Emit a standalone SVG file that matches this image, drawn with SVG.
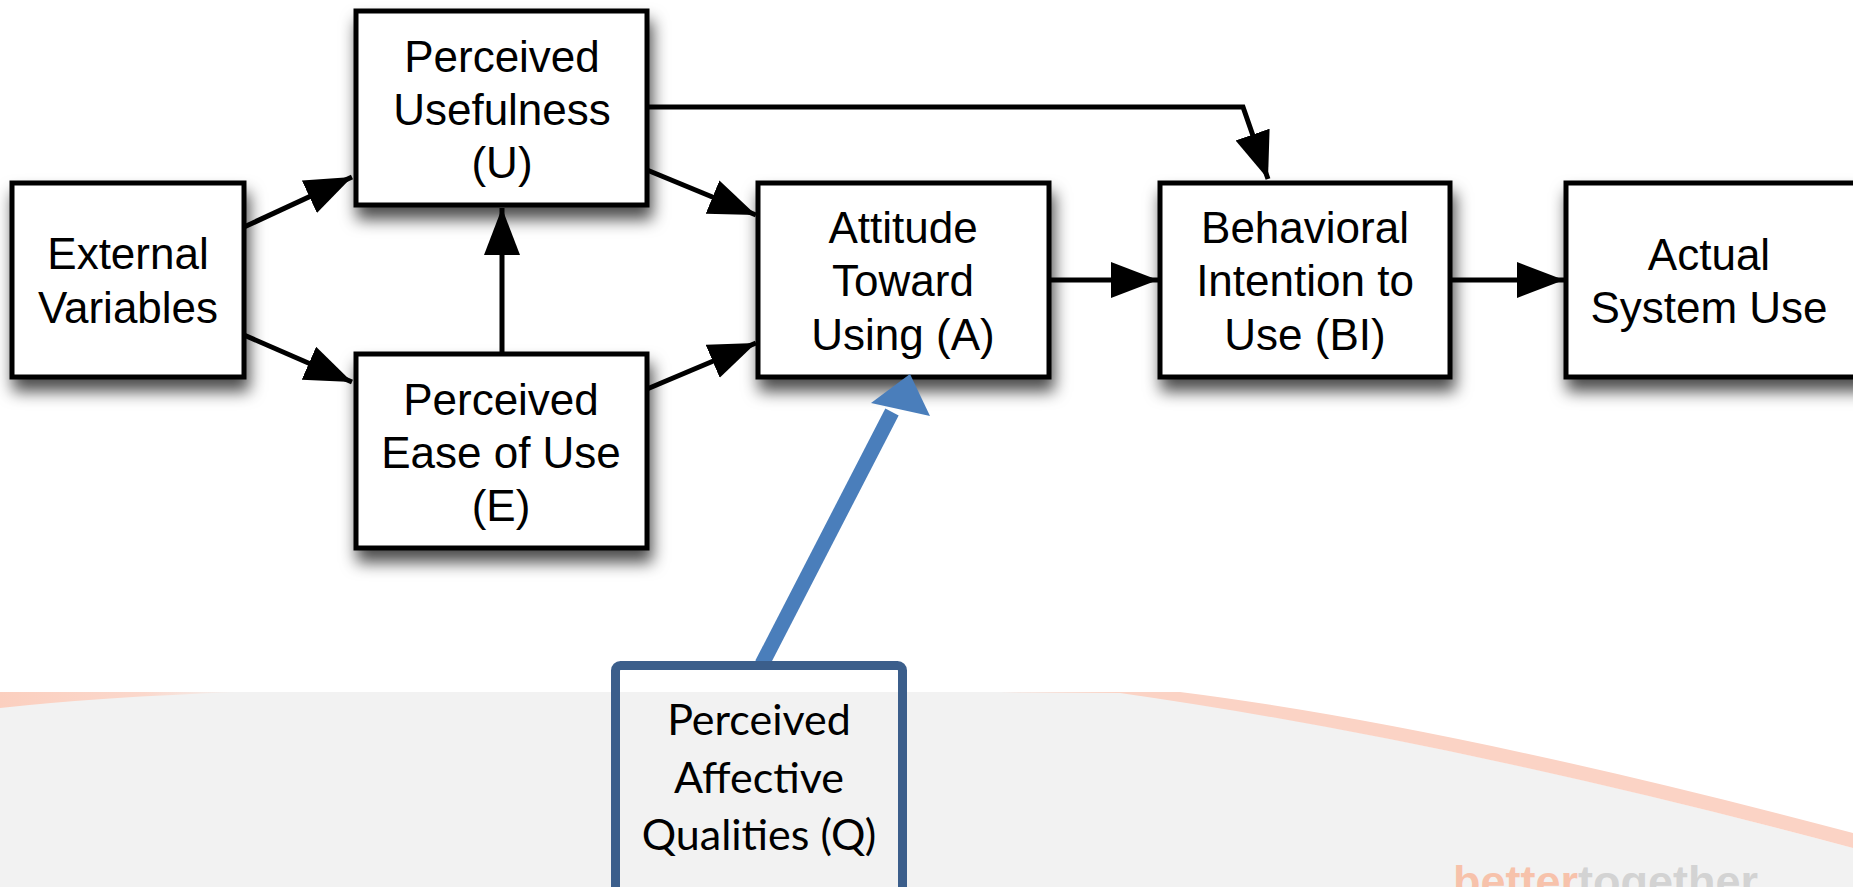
<svg xmlns="http://www.w3.org/2000/svg" width="1853" height="887" viewBox="0 0 1853 887">
  <style>
    .box { fill: #ffffff; stroke: #000000; stroke-width: 5; filter: url(#shadow); }
    .lbl { font-family: "Liberation Sans", Arial, Helvetica, sans-serif; font-size: 44px; fill: #000000; text-anchor: middle; }
    .conn { fill: none; stroke: #000000; stroke-width: 5; marker-end: url(#arrow); }
    .qlbl { font-family: Lato, "Open Sans", sans-serif; font-size: 43px; fill: #000000; text-anchor: middle; }
  </style>
  <defs>
    <filter id="shadow" x="-20%" y="-20%" width="150%" height="170%">
      <feDropShadow dx="3" dy="12" stdDeviation="8" flood-color="#000000" flood-opacity="0.7"/>
    </filter>
    <marker id="arrow" markerUnits="userSpaceOnUse" markerWidth="50" markerHeight="38" refX="47" refY="18" orient="auto">
      <path d="M0,0 L47,18 L0,36 Z" fill="#000000"/>
    </marker>
    <linearGradient id="pinkL" x1="0" y1="0" x2="1" y2="0">
      <stop offset="0" stop-color="#fbcfbf"/>
      <stop offset="0.6" stop-color="#fbd8cc"/>
      <stop offset="1" stop-color="#f2f2f2"/>
    </linearGradient>
  </defs>

  <g id="background">
    <rect x="0" y="0" width="1853" height="887" fill="#ffffff"/>
    <path d="M0,692 H1120 Q1450,740 1853,848 V887 H0 Z" fill="#f2f2f2"/>
    <path d="M1000,692 H1180 Q1450,726 1853,833 V848 Q1450,740 1120,693 Z" fill="#fbd3c5"/>
    <path d="M0,692 H240 Q100,697 0,708 Z" fill="url(#pinkL)"/>
    <text x="1453" y="897" font-family="'Liberation Sans', Arial, sans-serif" font-weight="bold" font-size="45"><tspan fill="#f7c2ab">better</tspan><tspan fill="#d3d3d3">together</tspan></text>
  </g>

  <g id="connectors">
    <line class="conn" x1="244" y1="227" x2="352" y2="177"/>
    <line class="conn" x1="244" y1="335" x2="352" y2="382"/>
    <line class="conn" x1="502" y1="354" x2="502" y2="208"/>
    <line class="conn" x1="647" y1="170" x2="756" y2="215"/>
    <line class="conn" x1="647" y1="389" x2="756" y2="343"/>
    <polyline class="conn" points="647,107 1243,107 1268,179"/>
    <line class="conn" x1="1049" y1="280" x2="1158" y2="280"/>
    <line class="conn" x1="1450" y1="280" x2="1564" y2="280"/>
  </g>

  <g id="node-external">
    <rect class="box" x="12" y="183" width="232" height="194"/>
    <text class="lbl" x="128" y="269">External</text>
    <text class="lbl" x="128" y="323">Variables</text>
  </g>

  <g id="node-usefulness">
    <rect class="box" x="356" y="11" width="291" height="194"/>
    <text class="lbl" x="502" y="72">Perceived</text>
    <text class="lbl" x="502" y="125">Usefulness</text>
    <text class="lbl" x="502" y="178">(U)</text>
  </g>

  <g id="node-ease">
    <rect class="box" x="356" y="354" width="291" height="194"/>
    <text class="lbl" x="501" y="415">Perceived</text>
    <text class="lbl" x="501" y="468">Ease of Use</text>
    <text class="lbl" x="501" y="521">(E)</text>
  </g>

  <g id="node-attitude">
    <rect class="box" x="758" y="183" width="291" height="194"/>
    <text class="lbl" x="903" y="243">Attitude</text>
    <text class="lbl" x="903" y="296">Toward</text>
    <text class="lbl" x="903" y="350">Using (A)</text>
  </g>

  <g id="node-intention">
    <rect class="box" x="1160" y="183" width="290" height="194"/>
    <text class="lbl" x="1305" y="243">Behavioral</text>
    <text class="lbl" x="1305" y="296">Intention to</text>
    <text class="lbl" x="1305" y="350">Use (BI)</text>
  </g>

  <g id="node-actual">
    <rect class="box" x="1566" y="183" width="300" height="194"/>
    <text class="lbl" x="1709" y="270">Actual</text>
    <text class="lbl" x="1709" y="323">System Use</text>
  </g>

  <g id="connector-q">
    <line x1="762" y1="664" x2="892" y2="412" stroke="#4a7ebb" stroke-width="15"/>
    <path d="M910,374 L930,416 L871,403 Z" fill="#4a7ebb"/>
  </g>

  <g id="node-affective">
    <rect x="615.5" y="665.5" width="287" height="250" rx="5" fill="none" stroke="#3b5e8b" stroke-width="9"/>
    <text class="qlbl" x="759" y="735">Perceived</text>
    <text class="qlbl" x="759" y="793">Affective</text>
    <text class="qlbl" x="759" y="850">Qualities (Q)</text>
  </g>
</svg>
